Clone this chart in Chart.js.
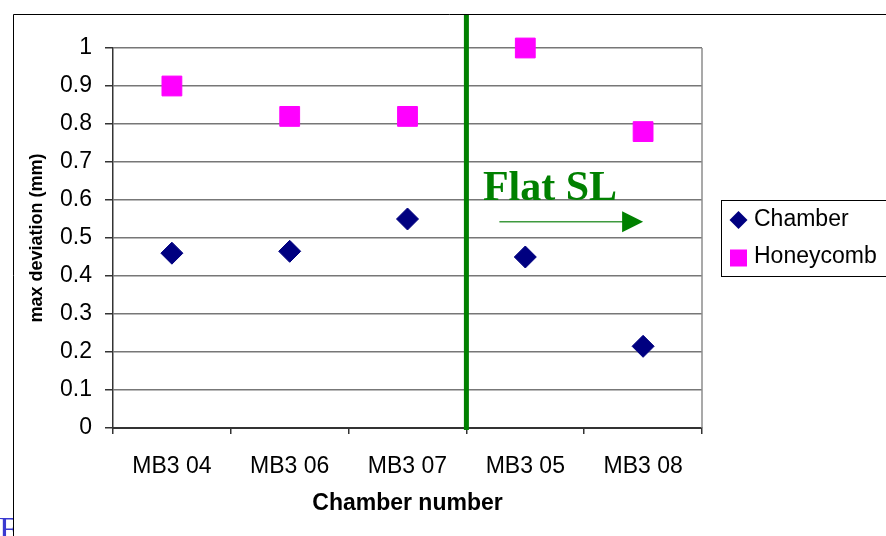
<!DOCTYPE html>
<html>
<head>
<meta charset="utf-8">
<script src="https://cdn.jsdelivr.net/npm/chart.js@4/dist/chart.umd.min.js"></script>
<style>
  html, body { margin: 0; padding: 0; background: #fff; }
  #wrap { width: 886px; height: 536px; }
</style>
</head>
<body>
<div id="wrap"><canvas id="chart" width="886" height="536"></canvas></div>
<script>
const categories = ["MB3 04", "MB3 06", "MB3 07", "MB3 05", "MB3 08"];
const chamberValues = [0.46, 0.465, 0.55, 0.45, 0.215];
const honeycombValues = [0.9, 0.82, 0.82, 1.0, 0.78];
const yTickLabels = ["0", "0.1", "0.2", "0.3", "0.4", "0.5", "0.6", "0.7", "0.8", "0.9", "1"];
const seriesNames = ["Chamber", "Honeycomb"];

// flat SL chambers start after MB3 07 (boundary between category 2 and 3)
const flatSLBoundary = 2.5;
const flatSLLabel = "Flat SL";

const SANS = '"Liberation Sans", Arial, sans-serif';
const SERIF = '"Liberation Serif", "Times New Roman", serif';
const GREEN = "#008000";

Chart.defaults.font.family = SANS;
Chart.defaults.color = "#000";

function drawMarker(ctx, style, x, y, r, color) {
  ctx.fillStyle = color;
  ctx.beginPath();
  if (style === "rectRot") {
    ctx.moveTo(x - r, y);
    ctx.lineTo(x, y - r);
    ctx.lineTo(x + r, y);
    ctx.lineTo(x, y + r);
    ctx.closePath();
  } else {
    ctx.rect(x - r, y - r, 2 * r, 2 * r);
  }
  ctx.fill();
}

const decorations = {
  id: "decorations",
  beforeDraw(chart) {
    const ctx = chart.ctx;
    ctx.save();
    ctx.fillStyle = "#fff";
    ctx.fillRect(0, 0, chart.width, chart.height);
    ctx.restore();
  },
  afterDraw(chart) {
    const ctx = chart.ctx;
    const area = chart.chartArea;
    const xs = chart.scales.x;
    const ys = chart.scales.y;
    ctx.save();

    // right border of plot area
    ctx.strokeStyle = "#8c8c8c";
    ctx.lineWidth = 1.5;
    ctx.beginPath();
    ctx.moveTo(area.right, area.top);
    ctx.lineTo(area.right, area.bottom);
    ctx.stroke();

    // outer frame (top and left only, rest is off the picture)
    ctx.strokeStyle = "#000";
    ctx.lineWidth = 1;
    ctx.beginPath();
    ctx.moveTo(13.5, chart.height);
    ctx.lineTo(13.5, 14.5);
    ctx.lineTo(chart.width, 14.5);
    ctx.stroke();

    // green divider
    const dx = xs.getPixelForValue(flatSLBoundary);
    ctx.strokeStyle = GREEN;
    ctx.lineWidth = 5;
    ctx.beginPath();
    ctx.moveTo(dx, 15);
    ctx.lineTo(dx, area.bottom + 2);
    ctx.stroke();

    // Flat SL label and arrow
    ctx.fillStyle = GREEN;
    ctx.font = "bold 42px " + SERIF;
    ctx.textAlign = "left";
    ctx.textBaseline = "alphabetic";
    ctx.fillText(flatSLLabel, xs.getPixelForValue(2.64), ys.getPixelForValue(0.6));

    const ay = ys.getPixelForValue(0.543);
    const ax0 = xs.getPixelForValue(2.78);
    const ax1 = xs.getPixelForValue(4.0);
    ctx.strokeStyle = "#3f9a3f";
    ctx.lineWidth = 1.5;
    ctx.beginPath();
    ctx.moveTo(ax0, ay);
    ctx.lineTo(ax1 - 20, ay);
    ctx.stroke();
    ctx.fillStyle = GREEN;
    ctx.beginPath();
    ctx.moveTo(ax1, ay);
    ctx.lineTo(ax1 - 21, ay - 10.5);
    ctx.lineTo(ax1 - 21, ay + 10.5);
    ctx.closePath();
    ctx.fill();

    // legend
    ctx.strokeStyle = "#000";
    ctx.lineWidth = 1;
    ctx.strokeRect(721.5, 200.5, 200, 76);
    ctx.font = "23px " + SANS;
    ctx.textBaseline = "middle";
    ctx.fillStyle = "#000";
    const ds = chart.data.datasets;
    const rows = [220, 257];
    ds.forEach((d, i) => {
      const r = d.pointStyle === "rectRot" ? 9 : 8.5;
      drawMarker(ctx, d.pointStyle, 738.5, rows[i] + (i === 1 ? 1 : 0), r, d.backgroundColor);
      ctx.fillStyle = "#000";
      ctx.fillText(d.label, 754, rows[i]);
    });

    // stray blue character at bottom-left
    ctx.beginPath();
    ctx.rect(0, 0, 13, chart.height);
    ctx.clip();
    ctx.fillStyle = "#3a3ad0";
    ctx.font = "34px " + SERIF;
    ctx.textBaseline = "alphabetic";
    ctx.fillText("F", -1, 540);

    ctx.restore();
  }
};

const ctx = document.getElementById("chart").getContext("2d");
new Chart(ctx, {
  type: "line",
  data: {
    labels: categories,
    datasets: [
      {
        label: seriesNames[0],
        data: chamberValues,
        showLine: false,
        pointStyle: "rectRot",
        pointRadius: 11,
        borderWidth: 1,
        backgroundColor: "#000080",
        borderColor: "#000080",
        clip: false
      },
      {
        label: seriesNames[1],
        data: honeycombValues,
        showLine: false,
        pointStyle: "rect",
        pointRadius: 14,
        borderWidth: 1,
        backgroundColor: "#ff00ff",
        borderColor: "#ff00ff",
        clip: false
      }
    ]
  },
  options: {
    responsive: false,
    animation: false,
    events: [],
    devicePixelRatio: 1,
    layout: { padding: { left: 0, top: 48, right: 184, bottom: 0 } },
    plugins: {
      legend: { display: false },
      tooltip: { enabled: false }
    },
    scales: {
      x: {
        offset: true,
        afterFit(scale) { scale.height = 108; },
        grid: {
          offset: true,
          drawOnChartArea: false,
          drawTicks: true,
          tickLength: 6,
          tickColor: "#333",
          lineWidth: 1.5
        },
        border: { color: "#333", width: 2 },
        ticks: {
          font: { size: 23 },
          color: "#000",
          padding: 19,
          maxRotation: 0,
          autoSkip: false
        },
        title: {
          display: true,
          text: "Chamber number",
          font: { size: 23, weight: "bold" },
          color: "#000",
          padding: { top: 0, bottom: 19 }
        }
      },
      y: {
        min: 0,
        max: 1,
        afterFit(scale) { scale.width = 113; },
        grid: {
          color: "#777",
          lineWidth: 1.5,
          tickLength: 8,
          tickColor: "#333"
        },
        border: { color: "#333", width: 1.5 },
        ticks: {
          stepSize: 0.1,
          font: { size: 23 },
          color: "#000",
          padding: 13,
          callback: (v, i) => yTickLabels[i]
        },
        title: {
          display: true,
          text: "max deviation (mm)",
          font: { size: 18, weight: "bold" },
          color: "#000",
          padding: { top: 26, bottom: 0 }
        }
      }
    }
  },
  plugins: [decorations]
});
</script>
</body>
</html>
